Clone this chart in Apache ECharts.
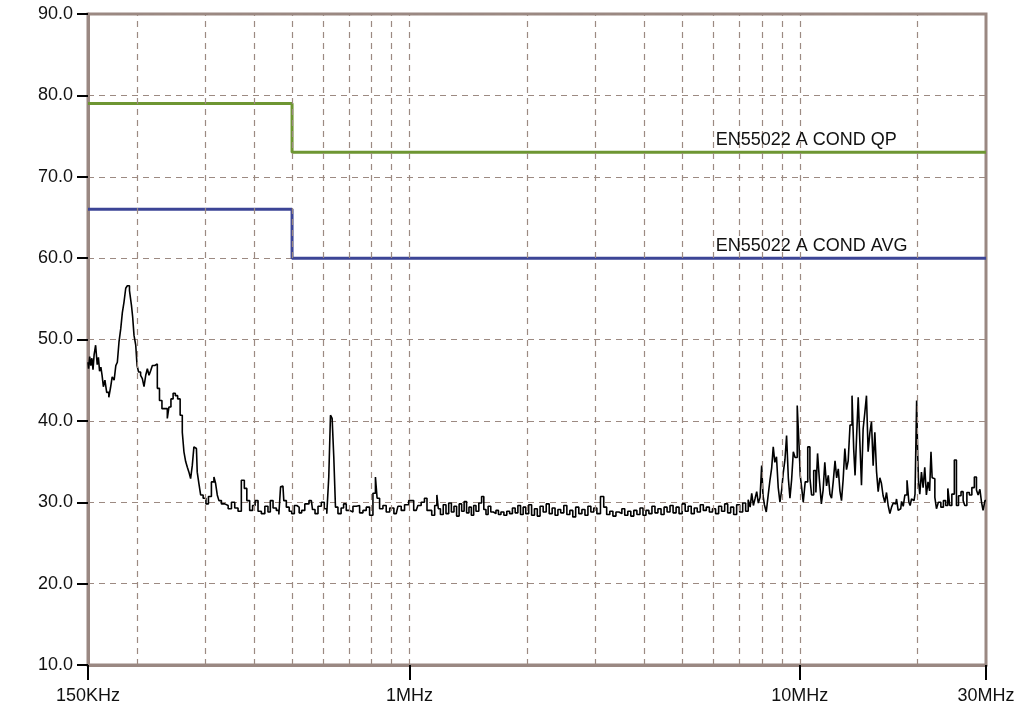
<!DOCTYPE html>
<html>
<head>
<meta charset="utf-8">
<title>EN55022 conducted emission</title>
<style>html,body{margin:0;padding:0;background:#fff;}</style>
</head>
<body>
<div id="main" style="width:1018px;height:713px;"></div>
<script src="https://cdn.jsdelivr.net/npm/echarts@6/dist/echarts.min.js"></script>
<script>
// measured scan: [frequency in MHz, level in dB]
var scan = [
  [0.1500, 47.2], [0.1510, 46.4], [0.1520, 47.9], [0.1530, 46.8], [0.1540, 47.7], [0.1550, 46.3],
  [0.1560, 48.1], [0.1578, 49.3], [0.1590, 46.9], [0.1600, 47.8], [0.1612, 46.1], [0.1625, 46.6],
  [0.1635, 45.6], [0.1650, 44.2], [0.1665, 45.0], [0.1685, 43.5], [0.1707, 42.9], [0.1720, 44.1],
  [0.1740, 45.4], [0.1760, 45.0], [0.1775, 46.8], [0.1792, 47.2], [0.1810, 49.7], [0.1829, 51.3],
  [0.1845, 53.3], [0.1865, 54.6], [0.1883, 56.3], [0.1901, 56.6], [0.1931, 56.0], [0.1946, 54.2],
  [0.1958, 52.8], [0.1978, 50.5], [0.1998, 49.3], [0.2009, 46.8], [0.2035, 46.0], [0.2057, 45.6],
  [0.2077, 45.2], [0.2098, 44.2], [0.2119, 45.6], [0.2139, 46.4], [0.2161, 45.6], [0.2183, 46.2],
  [0.2203, 46.8], [0.2247, 47.0], [0.2269, 44.0], [0.2305, 42.5], [0.2336, 41.5], [0.2384, 41.5],
  [0.2406, 40.3], [0.2430, 41.7], [0.2464, 42.7], [0.2493, 43.4], [0.2529, 43.1], [0.2563, 42.7],
  [0.2604, 40.7], [0.2629, 38.6], [0.2655, 36.2], [0.2683, 35.0], [0.2708, 34.3], [0.2734, 33.7],
  [0.2762, 32.9], [0.2788, 34.5], [0.2816, 36.8], [0.2844, 36.6], [0.2871, 33.7], [0.2901, 32.3],
  [0.2930, 30.9], [0.2988, 30.5], [0.3029, 29.8], [0.3077, 30.7], [0.3137, 32.5], [0.3170, 33.1],
  [0.3200, 32.3], [0.3232, 30.9], [0.3264, 30.2], [0.3328, 29.8], [0.3396, 29.6], [0.3463, 29.2],
  [0.3531, 30.0], [0.3600, 29.3], [0.3671, 28.9], [0.3743, 32.7], [0.3803, 31.7], [0.3855, 30.2],
  [0.3933, 29.0], [0.3990, 29.6], [0.4051, 30.2], [0.4130, 28.9], [0.4212, 28.6], [0.4305, 29.5],
  [0.4370, 28.8], [0.4426, 30.2], [0.4513, 29.3], [0.4601, 29.0], [0.4650, 28.5], [0.4694, 31.9],
  [0.4738, 32.0], [0.4787, 30.2], [0.4881, 29.4], [0.4951, 28.9], [0.5027, 28.6], [0.5108, 29.6],
  [0.5177, 29.4], [0.5251, 28.7], [0.5332, 29.0], [0.5450, 29.8], [0.5603, 30.2], [0.5680, 29.1],
  [0.5771, 28.6], [0.5884, 29.5], [0.6000, 30.0], [0.6095, 29.2], [0.6179, 28.6], [0.6240, 33.1],
  [0.6304, 40.7], [0.6364, 40.3], [0.6427, 35.6], [0.6492, 29.4], [0.6619, 28.6], [0.6737, 29.3],
  [0.6817, 29.8], [0.6952, 29.0], [0.7093, 28.8], [0.7231, 29.5], [0.7374, 29.6], [0.7523, 28.7],
  [0.7670, 29.0], [0.7822, 29.4], [0.7980, 28.4], [0.8136, 31.1], [0.8219, 33.1], [0.8297, 30.5],
  [0.8465, 29.2], [0.8630, 29.6], [0.8800, 28.8], [0.8994, 29.3], [0.9246, 28.6], [0.9428, 29.5],
  [0.9614, 29.0], [0.9808, 29.7], [1.010, 30.2], [1.040, 29.0], [1.061, 29.6], [1.081, 30.0],
  [1.103, 30.5], [1.114, 29.0], [1.13, 29.0], [1.15, 28.4], [1.17, 29.6], [1.18, 30.9],
  [1.19, 29.2], [1.21, 28.5], [1.23, 29.7], [1.25, 28.6], [1.27, 29.9], [1.29, 28.8],
  [1.31, 29.5], [1.33, 28.3], [1.35, 29.8], [1.37, 28.9], [1.39, 30.1], [1.41, 28.7],
  [1.43, 29.4], [1.45, 28.4], [1.47, 29.6], [1.49, 28.9], [1.52, 29.9], [1.54, 30.7],
  [1.56, 29.1], [1.58, 28.5], [1.60, 29.5], [1.63, 28.8], [1.65, 28.6], [1.68, 29.0],
  [1.70, 28.5], [1.73, 28.8], [1.76, 28.4], [1.79, 28.9], [1.82, 28.6], [1.85, 29.3],
  [1.88, 28.7], [1.91, 29.6], [1.94, 28.5], [1.97, 29.4], [2.00, 28.6], [2.04, 29.7],
  [2.07, 28.4], [2.11, 29.2], [2.14, 28.3], [2.18, 29.5], [2.22, 28.8], [2.26, 29.8],
  [2.30, 28.6], [2.34, 29.3], [2.38, 28.4], [2.42, 29.1], [2.46, 28.7], [2.51, 29.6],
  [2.55, 28.5], [2.60, 29.0], [2.64, 28.2], [2.69, 29.4], [2.74, 28.6], [2.79, 29.1],
  [2.84, 28.4], [2.89, 29.5], [2.94, 28.8], [2.99, 29.3], [3.05, 28.6], [3.12, 30.7],
  [3.17, 29.4], [3.23, 28.5], [3.29, 28.9], [3.35, 28.3], [3.41, 28.8], [3.47, 28.6],
  [3.53, 29.2], [3.59, 28.4], [3.66, 28.9], [3.72, 28.3], [3.79, 29.0], [3.86, 28.5],
  [3.93, 29.3], [4.00, 28.4], [4.07, 29.0], [4.14, 28.6], [4.22, 29.5], [4.29, 28.7],
  [4.37, 29.2], [4.45, 28.5], [4.53, 29.4], [4.61, 28.8], [4.69, 29.6], [4.78, 28.7],
  [4.86, 29.4], [4.95, 28.6], [5.04, 29.8], [5.13, 28.9], [5.22, 29.5], [5.32, 28.6],
  [5.41, 29.3], [5.51, 28.8], [5.61, 29.7], [5.71, 29.0], [5.81, 29.4], [5.92, 28.8],
  [6.03, 29.2], [6.14, 28.6], [6.25, 29.5], [6.36, 28.9], [6.48, 29.8], [6.59, 28.7],
  [6.71, 29.4], [6.83, 28.5], [6.95, 29.7], [7.08, 28.8], [7.20, 29.9], [7.33, 28.9],
  [7.42, 30.3], [7.50, 29.4], [7.56, 31.1], [7.65, 29.6], [7.72, 30.5], [7.79, 31.3],
  [7.87, 29.9], [7.95, 30.6], [8.02, 34.5], [8.08, 30.8], [8.15, 29.7], [8.26, 28.8],
  [8.34, 30.9], [8.43, 32.7], [8.51, 34.2], [8.59, 36.8], [8.67, 34.9], [8.76, 35.6],
  [8.85, 31.8], [8.94, 30.0], [9.03, 31.5], [9.12, 33.7], [9.20, 35.2], [9.30, 38.2],
  [9.39, 33.0], [9.48, 30.5], [9.58, 32.8], [9.67, 36.2], [9.78, 35.5], [9.92, 41.9],
  [9.99, 37.0], [10.06, 33.3], [10.16, 31.8], [10.25, 30.0], [10.40, 32.5], [10.56, 36.8],
  [10.67, 33.0], [10.77, 30.9], [10.94, 33.9], [11.05, 31.2], [11.16, 36.0], [11.29, 32.8],
  [11.42, 29.8], [11.53, 31.5], [11.65, 34.9], [11.77, 32.0], [11.89, 33.3], [12.00, 31.0],
  [12.12, 30.5], [12.25, 32.6], [12.37, 35.1], [12.49, 33.0], [12.61, 34.1], [12.73, 31.4],
  [12.85, 30.2], [12.98, 32.8], [13.11, 36.6], [13.24, 34.0], [13.37, 35.1], [13.53, 39.5],
  [13.69, 43.1], [13.80, 36.5], [13.91, 33.3], [14.05, 38.0], [14.18, 42.9], [14.32, 37.5],
  [14.46, 32.1], [14.60, 39.0], [14.75, 41.0], [14.89, 43.1], [15.04, 36.2], [15.19, 38.5],
  [15.34, 39.9], [15.49, 34.5], [15.65, 38.6], [15.80, 33.8], [15.96, 31.3], [16.11, 33.0],
  [16.27, 32.3], [16.43, 30.8], [16.60, 30.0], [16.76, 31.2], [16.93, 29.6], [17.10, 28.6],
  [17.27, 29.4], [17.44, 29.9], [17.61, 29.8], [17.78, 30.4], [17.96, 29.0], [18.14, 29.2],
  [18.32, 30.1], [18.50, 29.5], [18.68, 30.9], [18.97, 32.7], [19.10, 30.0], [19.24, 29.6],
  [19.43, 30.4], [19.62, 30.2], [19.85, 31.0], [20.00, 42.5], [20.10, 35.8], [20.20, 32.5],
  [20.40, 31.0], [20.60, 33.7], [20.80, 31.8], [21.01, 34.3], [21.20, 30.9], [21.42, 32.5],
  [21.60, 31.4], [21.77, 36.2], [21.90, 33.0], [22.07, 32.9], [22.30, 30.6], [22.50, 29.2],
  [22.80, 30.0], [23.17, 29.4], [23.50, 30.2], [23.80, 29.6], [24.10, 31.7], [24.35, 29.6],
  [24.70, 31.0], [25.08, 35.2], [25.32, 29.6], [25.70, 30.8], [26.08, 31.3], [26.35, 30.2],
  [26.60, 29.6], [27.00, 31.2], [27.40, 30.9], [27.80, 31.8], [28.22, 33.1], [28.50, 31.5],
  [28.78, 30.9], [29.10, 31.6], [29.34, 30.0], [29.63, 29.0], [30.00, 30.2]
];

// EN55022 class A conducted limits
var qpFreq = [0.15, 0.5, 0.5, 30];
var qpLevel = [79, 79, 73, 73];
var avgFreq = [0.15, 0.5, 0.5, 30];
var avgLevel = [66, 66, 60, 60];

// dashed vertical grid lines
var gridFreq = [0.2, 0.3, 0.4, 0.5, 0.6, 0.7, 0.8, 0.9, 1, 2, 3, 4, 5, 6, 7, 8, 9, 10, 20];

var xTickValues = [0.15, 1, 10, 30];
var xTickLabels = ['150KHz', '1MHz', '10MHz', '30MHz'];

var frameColor = '#9a8882';
var gridColor = '#9c8a82';
var font = 'Liberation Sans, Arial, sans-serif';

function pairs(xs, ys) {
    return xs.map(function (x, i) { return [x, ys[i]]; });
}

var myChart = echarts.init(document.getElementById('main'));

var option = {
    animation: false,
    backgroundColor: '#fff',
    grid: {
        left: 88, right: 32, top: 14, bottom: 48,
        show: true,
        borderColor: frameColor,
        borderWidth: 3
    },
    xAxis: {
        type: 'log',
        logBase: 10,
        min: 0.15,
        max: 30,
        axisLine: { show: true, lineStyle: { color: frameColor, width: 3 } },
        axisTick: { show: true, length: 15, lineStyle: { color: '#000', width: 2 } },
        axisLabel: {
            margin: 22,
            color: '#111',
            fontSize: 18,
            fontFamily: font,
            showMinLabel: true,
            showMaxLabel: true,
            formatter: function (v) {
                var best = 0;
                for (var i = 1; i < xTickValues.length; i++) {
                    if (Math.abs(Math.log(v / xTickValues[i])) < Math.abs(Math.log(v / xTickValues[best]))) best = i;
                }
                return xTickLabels[best];
            }
        },
        splitLine: { show: false },
        minorTick: { show: false }
    },
    yAxis: {
        type: 'value',
        min: 10,
        max: 90,
        interval: 10,
        axisLine: { show: true, lineStyle: { color: frameColor, width: 3 } },
        axisTick: { show: true, length: 11, lineStyle: { color: '#000', width: 2 } },
        axisLabel: {
            margin: 15,
            color: '#111',
            fontSize: 18,
            fontFamily: font,
            formatter: function (v) { return v.toFixed(1); }
        },
        splitLine: { show: true, lineStyle: { color: gridColor, width: 1.2, type: [6, 5] } }
    },
    series: [
        {
            name: 'grid',
            type: 'line',
            data: [],
            silent: true,
            z: 1,
            markLine: {
                silent: true,
                symbol: ['none', 'none'],
                label: { show: false },
                lineStyle: { color: gridColor, width: 1.2, type: [6, 5] },
                data: gridFreq.map(function (f) { return { xAxis: f }; })
            }
        },
        {
            name: 'EN55022 A COND QP',
            type: 'line',
            data: pairs(qpFreq, qpLevel),
            showSymbol: false,
            z: 3,
            lineStyle: { color: '#6e9632', width: 3 },
            markPoint: {
                symbol: 'circle',
                symbolSize: 1,
                itemStyle: { color: 'rgba(0,0,0,0)' },
                label: {
                    show: true,
                    position: [0, -21],
                    color: '#111',
                    fontSize: 18,
                    fontFamily: font,
                    formatter: 'EN55022 A COND QP'
                },
                data: [{ coord: [6.11, 73] }]
            }
        },
        {
            name: 'EN55022 A COND AVG',
            type: 'line',
            data: pairs(avgFreq, avgLevel),
            showSymbol: false,
            z: 3,
            lineStyle: { color: '#3c4596', width: 3 },
            markPoint: {
                symbol: 'circle',
                symbolSize: 1,
                itemStyle: { color: 'rgba(0,0,0,0)' },
                label: {
                    show: true,
                    position: [0, -21],
                    color: '#111',
                    fontSize: 18,
                    fontFamily: font,
                    formatter: 'EN55022 A COND AVG'
                },
                data: [{ coord: [6.11, 60] }]
            }
        },
        {
            name: 'scan',
            type: 'line',
            data: scan,
            step: 'middle',
            showSymbol: false,
            z: 4,
            lineStyle: { color: '#000', width: 1.6 }
        }
    ]
};

myChart.setOption(option);
</script>
</body>
</html>
